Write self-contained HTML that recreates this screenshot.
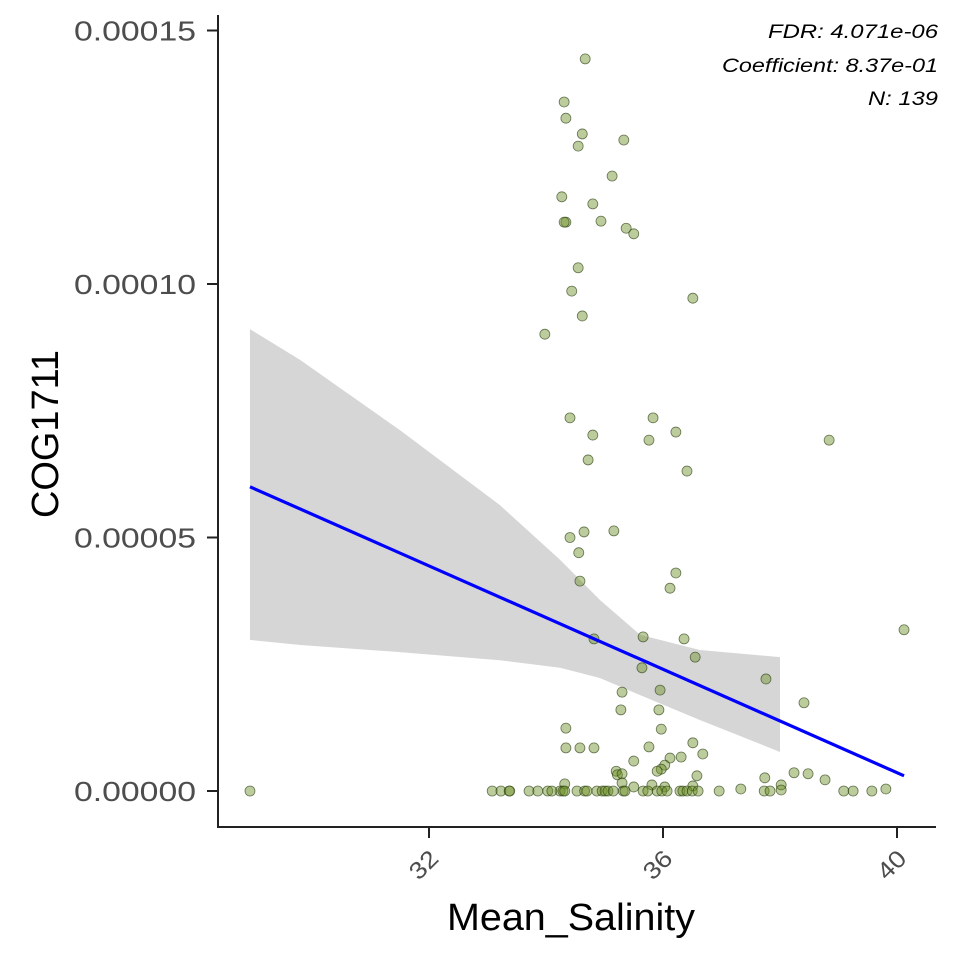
<!DOCTYPE html>
<html><head><meta charset="utf-8"><style>
html,body{margin:0;padding:0;background:#fff;}
svg text{font-family:"Liberation Sans",sans-serif;}
</style></head><body>
<svg id="chart" width="960" height="960" xmlns="http://www.w3.org/2000/svg">
<g id="ribbon-layer"></g>
<g id="line-layer"></g>
<g id="points-layer"></g>
<g id="axes"></g>
<text x="571" y="930" font-size="38" text-anchor="middle" textLength="248" lengthAdjust="spacingAndGlyphs" fill="#000">Mean_Salinity</text>
<text transform="translate(58,434) rotate(-90)" font-size="38" text-anchor="middle" textLength="168" lengthAdjust="spacingAndGlyphs" fill="#000">COG1711</text>
<text x="938" y="38" font-size="19" font-style="italic" text-anchor="end" textLength="170" lengthAdjust="spacingAndGlyphs">FDR: 4.071e-06</text>
<text x="938" y="72" font-size="19" font-style="italic" text-anchor="end" textLength="216" lengthAdjust="spacingAndGlyphs">Coefficient: 8.37e-01</text>
<text x="938" y="105" font-size="19" font-style="italic" text-anchor="end" textLength="70" lengthAdjust="spacingAndGlyphs">N: 139</text>
</svg>
<script>
const xs = [34.67,34.31,34.34,34.62,34.55,35.33,35.13,34.27,34.80,34.34,34.31,34.94,35.37,35.50,34.55,34.44,36.51,34.62,33.98,34.41,35.83,34.80,36.22,35.76,38.84,34.72,36.41,34.41,34.65,35.16,34.56,36.22,34.58,36.12,34.82,35.66,36.36,35.64,36.55,37.76,38.41,35.30,35.95,35.28,35.93,40.12,
34.34,35.97,34.34,34.58,34.82,35.76,35.50,36.51,36.68,36.31,36.12,36.03,35.97,35.90,35.20,35.22,35.30,36.58,34.32,35.30,35.81,35.50,36.03,36.51,
33.08,33.23,33.37,33.38,33.71,33.86,34.03,34.24,34.29,34.32,34.53,34.66,34.70,34.87,34.96,35.01,35.06,35.15,35.32,35.35,35.66,35.74,35.90,35.98,36.07,36.29,36.34,36.41,36.50,36.60,
36.96,37.33,37.74,37.73,37.83,38.02,38.02,38.24,38.48,38.77,39.09,39.25,39.57,39.81,28.94,34.10];
const ys = [14.44,13.59,13.27,12.96,12.72,12.84,12.13,11.72,11.58,11.22,11.22,11.24,11.10,10.99,10.32,9.86,9.72,9.37,9.01,7.36,7.36,7.02,7.08,6.92,6.92,6.53,6.31,5.00,5.11,5.13,4.70,4.30,4.14,4.00,3.00,3.04,3.00,2.43,2.64,2.21,1.74,1.95,1.99,1.60,1.60,3.18,
1.24,1.22,0.85,0.85,0.85,0.87,0.59,0.95,0.73,0.67,0.65,0.51,0.43,0.39,0.39,0.32,0.34,0.30,0.14,0.16,0.12,0.08,0.08,0.10,
0,0,0,0,0,0,0,0,0,0,0,0,0,0,0,0,0,0,0,0,0,0,0,0,0,0,0,0,0,0,
0,0.04,0.26,0,0,0.12,0.02,0.36,0.34,0.22,0,0,0,0.04,0,0];
const ciX = [28.94,29.80,31.50,33.21,34.24,34.92,35.61,36.63,38.0];
const ciHi = [9.11,8.50,7.12,5.64,4.56,3.77,3.08,2.78,2.64];
const ciLo = [2.98,2.88,2.74,2.58,2.43,2.23,1.89,1.40,0.77];
const fitX = [28.94,40.12];
const fitY = [6.00,0.30];
const xTicks = [32,36,40];
const yTicks = [0,5,10,15];
const yTickLabels = ["0.00000","0.00005","0.00010","0.00015"];

const NS="http://www.w3.org/2000/svg";
const X = v => 429 + (v-32)*58.5;
const Y = v => 791 - v*50.7;
function mk(tag, attrs, parent){const e=document.createElementNS(NS,tag);for(const k in attrs)e.setAttribute(k,attrs[k]);parent.appendChild(e);return e;}

const rib=document.getElementById('ribbon-layer');
let d='';
ciX.forEach((v,i)=>{d+=(i?'L':'M')+X(v)+','+Y(ciHi[i]);});
for(let i=ciX.length-1;i>=0;i--)d+='L'+X(ciX[i])+','+Y(ciLo[i]);
const band=mk('path',{d:d+'Z',fill:'#d6d6d6'},rib);



const pl=document.getElementById('points-layer');
xs.forEach((v,i)=>{
  const c=mk('circle',{cx:X(v),cy:Y(ys[i]),r:5,fill:'rgba(107,142,35,0.45)',stroke:'rgba(35,55,10,0.65)','stroke-width':0.8},pl);
  
  
});

const ll=document.getElementById('line-layer');
const ln=mk('line',{x1:X(fitX[0]),y1:Y(fitY[0]),x2:X(fitX[1]),y2:Y(fitY[1]),stroke:'#0000ff','stroke-width':3.2},ll);


document.getElementById('chart').appendChild(ll);

const ax=document.getElementById('axes');
mk('line',{x1:218,y1:15,x2:218,y2:828,stroke:'#222','stroke-width':2},ax);
mk('line',{x1:217,y1:827,x2:936,y2:827,stroke:'#222','stroke-width':2},ax);
yTicks.forEach((t,i)=>{
  mk('line',{x1:207,y1:Y(t),x2:218,y2:Y(t),stroke:'#222','stroke-width':2},ax);
  const tx=mk('text',{x:196,y:Y(t)+10,'font-size':28,'text-anchor':'end',fill:'#4d4d4d',textLength:122,lengthAdjust:'spacingAndGlyphs'},ax);
  tx.textContent=yTickLabels[i];
  
  
});
xTicks.forEach(t=>{
  mk('line',{x1:X(t),y1:827,x2:X(t),y2:838,stroke:'#222','stroke-width':2},ax);
  const tx=mk('text',{transform:`translate(${X(t)+11},${860}) rotate(-45)`,'font-size':24,'text-anchor':'end',fill:'#4d4d4d',textLength:30,lengthAdjust:'spacingAndGlyphs'},ax);
  tx.textContent=String(t);
  
  
});
</script>
</body></html>
